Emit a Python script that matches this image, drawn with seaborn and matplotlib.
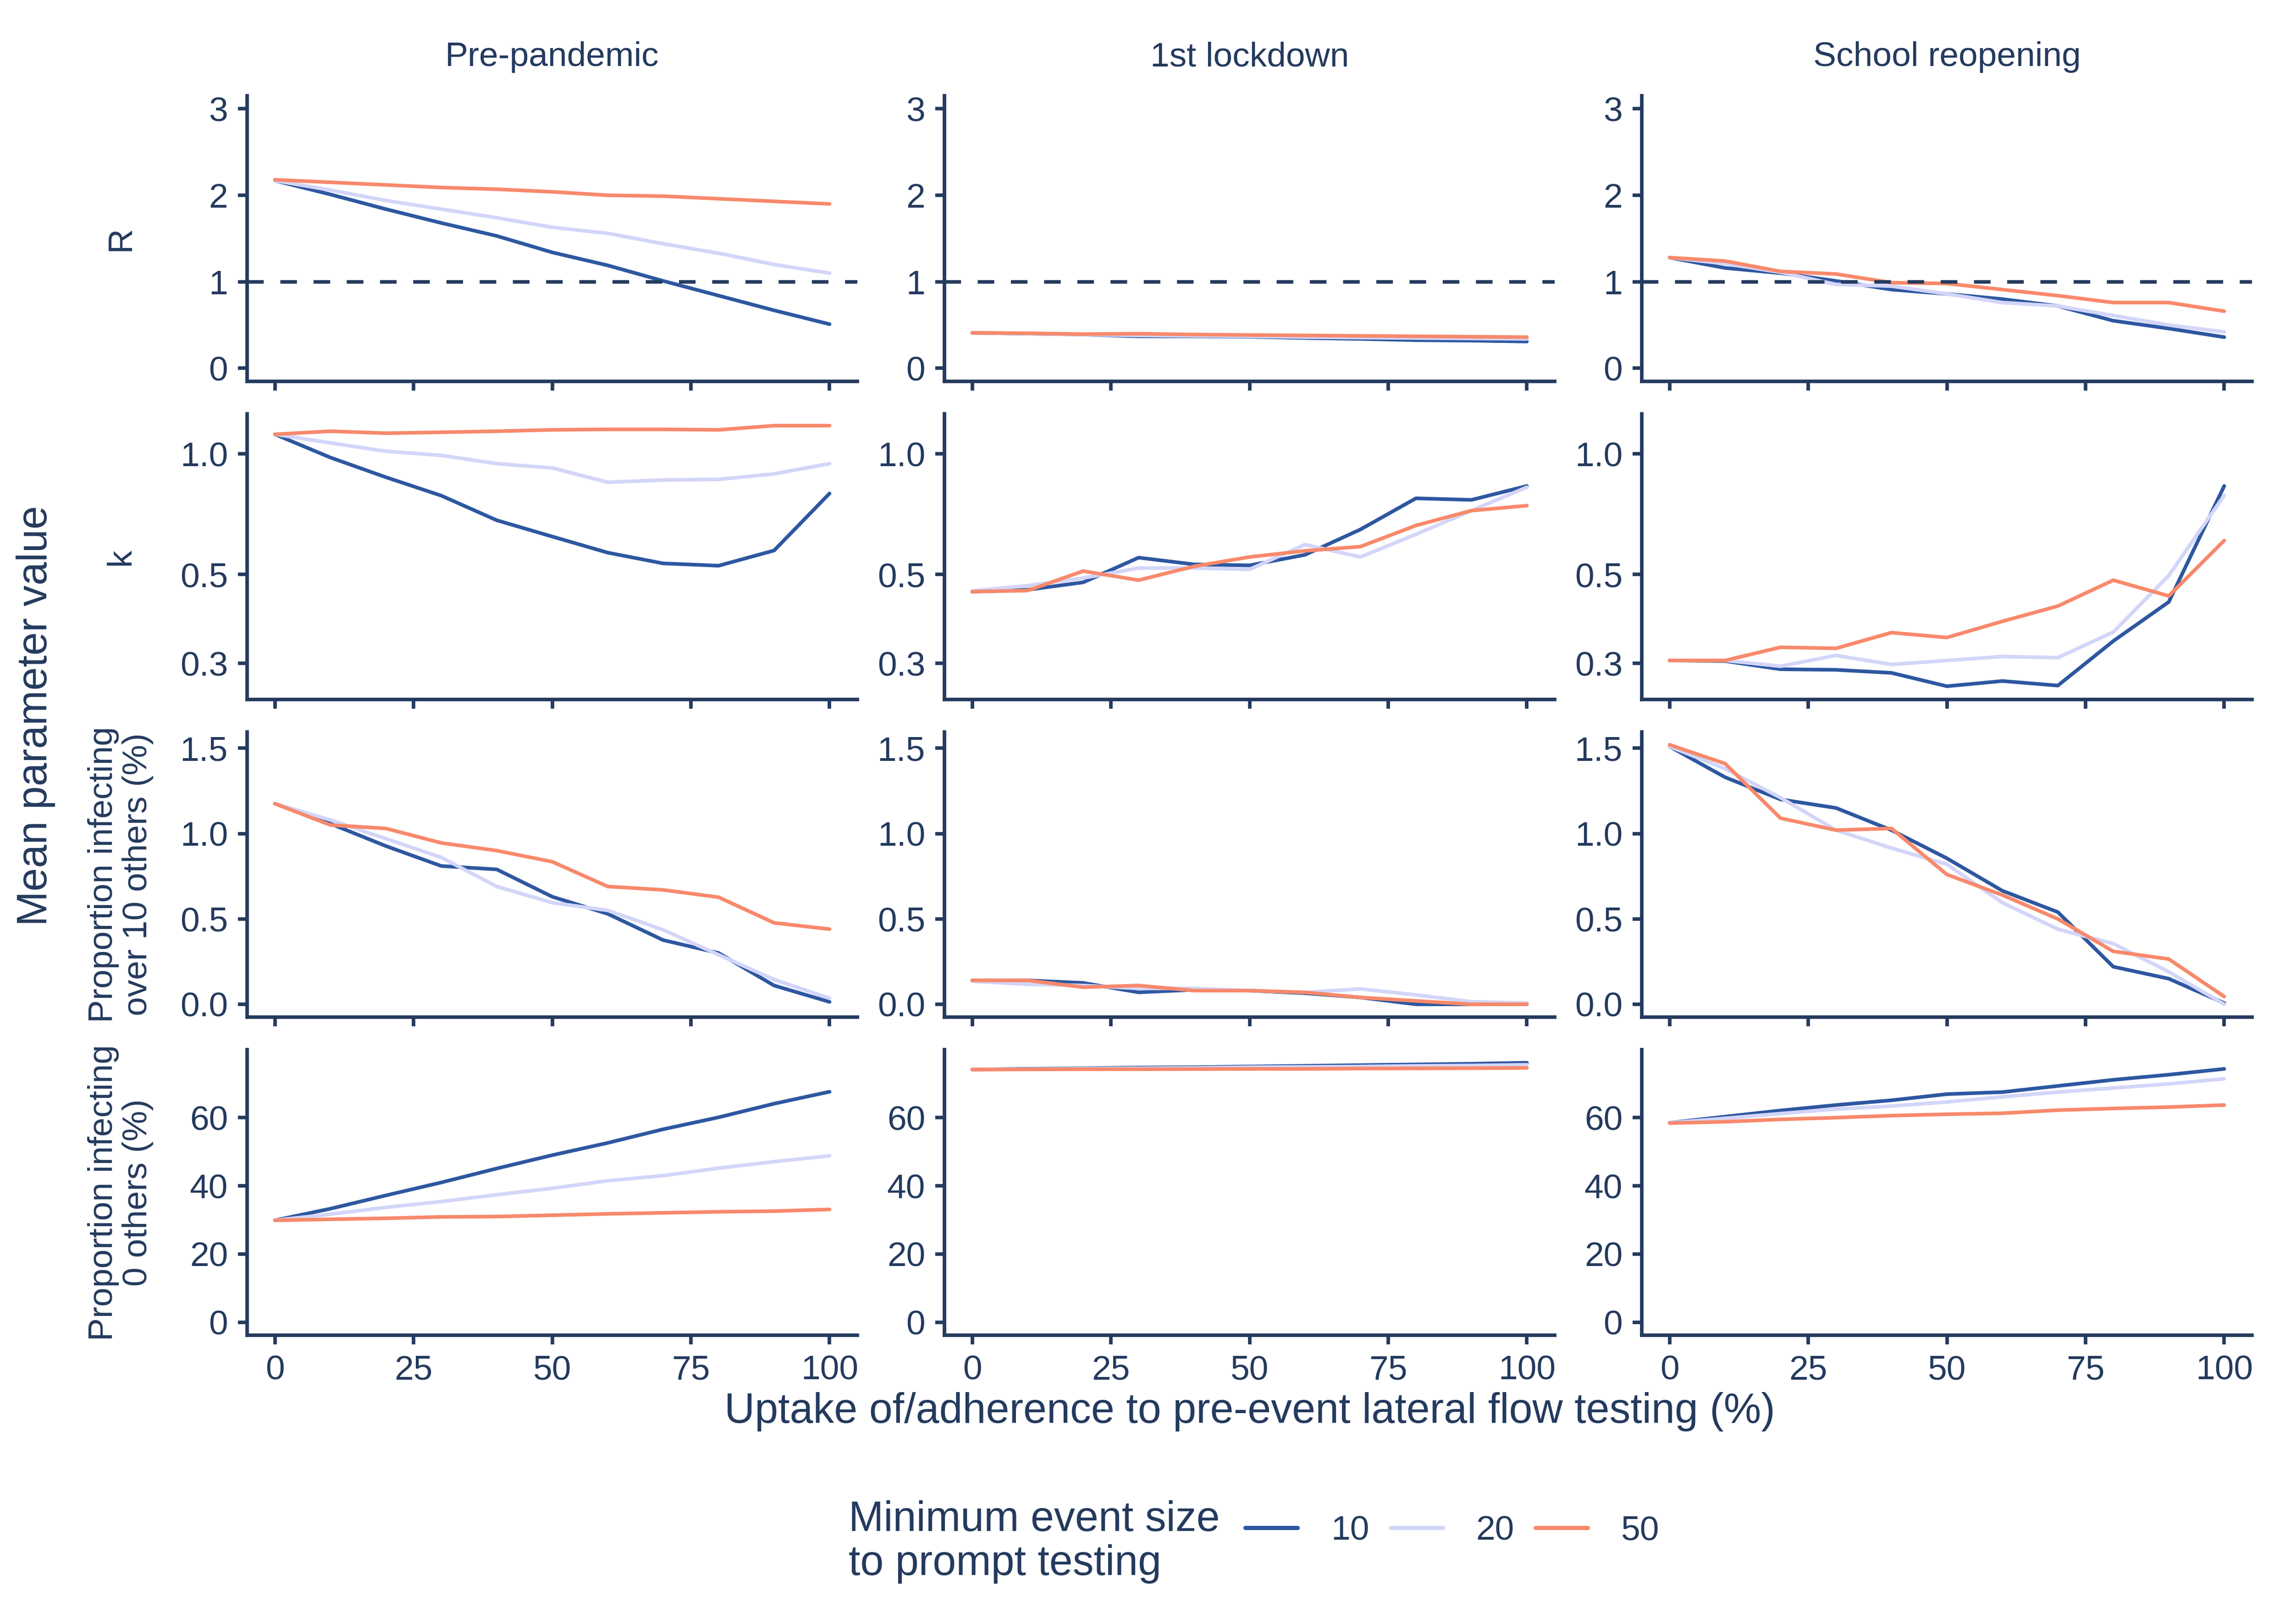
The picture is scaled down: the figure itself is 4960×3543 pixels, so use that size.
import numpy as np
import pandas as pd
import matplotlib
matplotlib.use("Agg")
import matplotlib.pyplot as plt
from matplotlib.lines import Line2D
from matplotlib.ticker import NullLocator
import seaborn as sns


# ---- data ----
uptake = [0, 10, 20, 30, 40, 50, 60, 70, 80, 90, 100]
sizes = ["10", "20", "50"]
scenarios = ["Pre-pandemic", "1st lockdown", "School reopening"]

# R
r_pre_10 = [2.17, 2.01, 1.84, 1.68, 1.53, 1.34, 1.19, 1.01, 0.84, 0.67, 0.51]
r_pre_20 = [2.17, 2.06, 1.94, 1.84, 1.74, 1.63, 1.56, 1.44, 1.33, 1.20, 1.10]
r_pre_50 = [2.18, 2.15, 2.12, 2.09, 2.07, 2.04, 2.00, 1.99, 1.96, 1.93, 1.90]
r_lock_10 = [0.41, 0.40, 0.39, 0.37, 0.37, 0.365, 0.35, 0.34, 0.325, 0.32, 0.31]
r_lock_20 = [0.41, 0.40, 0.39, 0.38, 0.375, 0.37, 0.36, 0.355, 0.35, 0.345, 0.34]
r_lock_50 = [0.41, 0.405, 0.395, 0.40, 0.39, 0.385, 0.38, 0.375, 0.37, 0.365, 0.36]
r_school_10 = [1.28, 1.16, 1.10, 1.01, 0.91, 0.86, 0.80, 0.72, 0.55, 0.46, 0.36]
r_school_20 = [1.28, 1.21, 1.11, 0.97, 0.95, 0.86, 0.76, 0.72, 0.61, 0.50, 0.42]
r_school_50 = [1.28, 1.24, 1.12, 1.09, 0.99, 0.98, 0.91, 0.84, 0.76, 0.76, 0.66]

# k
k_pre_10 = [1.12, 0.98, 0.875, 0.787, 0.683, 0.622, 0.567, 0.533, 0.526, 0.574, 0.797]
k_pre_20 = [1.12, 1.066, 1.016, 0.992, 0.946, 0.923, 0.85, 0.861, 0.864, 0.892, 0.946]
k_pre_50 = [1.12, 1.14, 1.127, 1.133, 1.14, 1.149, 1.152, 1.152, 1.149, 1.177, 1.177]
k_lock_10 = [0.453, 0.458, 0.478, 0.551, 0.530, 0.527, 0.56, 0.648, 0.775, 0.768, 0.832]
k_lock_20 = [0.455, 0.469, 0.49, 0.519, 0.519, 0.515, 0.594, 0.553, 0.63, 0.722, 0.826]
k_lock_50 = [0.453, 0.456, 0.51, 0.484, 0.524, 0.553, 0.573, 0.587, 0.663, 0.722, 0.743]
k_school_10 = [0.305, 0.304, 0.29, 0.289, 0.284, 0.263, 0.271, 0.264, 0.341, 0.427, 0.832]
k_school_20 = [0.305, 0.305, 0.295, 0.314, 0.298, 0.305, 0.312, 0.31, 0.359, 0.497, 0.788]
k_school_50 = [0.305, 0.305, 0.329, 0.327, 0.358, 0.348, 0.382, 0.417, 0.484, 0.442, 0.608]

# proportion infecting over 10 others (%)
p10_pre_10 = [1.175, 1.058, 0.927, 0.81, 0.79, 0.63, 0.53, 0.376, 0.30, 0.11, 0.014]
p10_pre_20 = [1.175, 1.08, 0.97, 0.86, 0.69, 0.595, 0.55, 0.436, 0.29, 0.145, 0.035]
p10_pre_50 = [1.175, 1.05, 1.03, 0.945, 0.90, 0.835, 0.69, 0.67, 0.627, 0.477, 0.44]
p10_lock_10 = [0.14, 0.14, 0.125, 0.07, 0.085, 0.08, 0.065, 0.04, 0.0, 0.0, 0.0]
p10_lock_20 = [0.135, 0.117, 0.11, 0.093, 0.093, 0.08, 0.07, 0.09, 0.055, 0.015, 0.007]
p10_lock_50 = [0.14, 0.14, 0.10, 0.11, 0.08, 0.08, 0.07, 0.04, 0.02, 0.0, 0.0]
p10_school_10 = [1.51, 1.33, 1.20, 1.15, 1.02, 0.855, 0.665, 0.54, 0.22, 0.15, 0.007]
p10_school_20 = [1.51, 1.38, 1.21, 1.02, 0.915, 0.82, 0.595, 0.44, 0.355, 0.19, 0.0]
p10_school_50 = [1.52, 1.41, 1.09, 1.02, 1.03, 0.76, 0.64, 0.50, 0.31, 0.265, 0.045]

# proportion infecting 0 others (%)
p0_pre_10 = [29.9, 33.3, 37.2, 41.0, 45.1, 49.0, 52.6, 56.6, 60.1, 64.1, 67.6]
p0_pre_20 = [29.9, 31.7, 33.7, 35.4, 37.4, 39.3, 41.5, 43.0, 45.2, 47.1, 48.8]
p0_pre_50 = [29.9, 30.2, 30.5, 30.9, 31.0, 31.4, 31.8, 32.1, 32.4, 32.6, 33.1]
p0_lock_10 = [74.1, 74.3, 74.5, 74.7, 74.8, 75.0, 75.2, 75.4, 75.6, 75.8, 76.1]
p0_lock_20 = [74.1, 74.2, 74.4, 74.5, 74.6, 74.8, 74.9, 75.0, 75.2, 75.3, 75.5]
p0_lock_50 = [74.1, 74.15, 74.2, 74.2, 74.25, 74.3, 74.3, 74.4, 74.45, 74.5, 74.6]
p0_school_10 = [58.5, 60.3, 62.1, 63.7, 65.1, 66.9, 67.5, 69.3, 71.1, 72.6, 74.3]
p0_school_20 = [58.5, 59.8, 61.2, 62.5, 63.4, 64.6, 66.1, 67.5, 68.7, 69.9, 71.4]
p0_school_50 = [58.4, 58.8, 59.5, 60.0, 60.6, 61.0, 61.3, 62.2, 62.7, 63.1, 63.7]

metric_labels = ["R", "k", "Proportion infecting\nover 10 others (%)",
                 "Proportion infecting\n0 others (%)"]

series = {
    ("R", "Pre-pandemic"): [r_pre_10, r_pre_20, r_pre_50],
    ("R", "1st lockdown"): [r_lock_10, r_lock_20, r_lock_50],
    ("R", "School reopening"): [r_school_10, r_school_20, r_school_50],
    ("k", "Pre-pandemic"): [k_pre_10, k_pre_20, k_pre_50],
    ("k", "1st lockdown"): [k_lock_10, k_lock_20, k_lock_50],
    ("k", "School reopening"): [k_school_10, k_school_20, k_school_50],
    ("p10", "Pre-pandemic"): [p10_pre_10, p10_pre_20, p10_pre_50],
    ("p10", "1st lockdown"): [p10_lock_10, p10_lock_20, p10_lock_50],
    ("p10", "School reopening"): [p10_school_10, p10_school_20, p10_school_50],
    ("p0", "Pre-pandemic"): [p0_pre_10, p0_pre_20, p0_pre_50],
    ("p0", "1st lockdown"): [p0_lock_10, p0_lock_20, p0_lock_50],
    ("p0", "School reopening"): [p0_school_10, p0_school_20, p0_school_50],
}

rows = []
for (metric, scen), vals in series.items():
    for size, v in zip(sizes, vals):
        for u, y in zip(uptake, v):
            rows.append({"metric": metric, "scenario": scen, "size": size,
                         "uptake": u, "value": y})
df = pd.DataFrame(rows)


# ---- style ----
NAVY = "#243a5e"
PALETTE = {"10": "#2d57a0", "20": "#d3d5f9", "50": "#f8896b"}
LW_AX = 1.85

sns.set_theme(style="white")
plt.rcParams["font.family"] = ["Liberation Sans", "DejaVu Sans"]
plt.rcParams["text.color"] = NAVY
plt.rcParams["axes.labelcolor"] = NAVY
plt.rcParams["xtick.color"] = NAVY
plt.rcParams["ytick.color"] = NAVY

fig, axes = plt.subplots(4, 3, figsize=(4960 / 300, 3543 / 300), dpi=300)
plt.subplots_adjust(left=0.1087, right=0.9903, top=0.941, bottom=0.1778,
                    wspace=0.143, hspace=0.114)

metrics = ["R", "k", "p10", "p0"]
ylims = {"R": (-0.15, 3.15), "k": (0.244, 1.26),
         "p10": (-0.076, 1.596), "p0": (-3.8, 79.9)}
yticks = {"R": [0, 1, 2, 3], "k": [0.3, 0.5, 1.0],
          "p10": [0.0, 0.5, 1.0, 1.5], "p0": [0, 20, 40, 60]}
yticklabels = {"R": ["0", "1", "2", "3"], "k": ["0.3", "0.5", "1.0"],
               "p10": ["0.0", "0.5", "1.0", "1.5"], "p0": ["0", "20", "40", "60"]}

for i, metric in enumerate(metrics):
    for j, scen in enumerate(scenarios):
        ax = axes[i, j]
        sub = df[(df["metric"] == metric) & (df["scenario"] == scen)]
        sns.lineplot(data=sub, x="uptake", y="value", hue="size",
                     hue_order=sizes, palette=PALETTE, linewidth=1.9,
                     legend=False, ax=ax)
        if metric == "R":
            ax.axhline(1, color=NAVY, lw=LW_AX, dashes=(4.7, 4.7), zorder=5)
        if metric == "k":
            ax.set_yscale("log")
            ax.yaxis.set_minor_locator(NullLocator())
        ax.set_ylim(*ylims[metric])
        ax.set_yticks(yticks[metric])
        ax.set_yticklabels(yticklabels[metric])
        ax.set_xlim(-5, 105)
        ax.set_xticks([0, 25, 50, 75, 100])
        if i < 3:
            ax.set_xticklabels([])
        ax.set_xlabel("")
        ax.set_ylabel("")
        for side in ["top", "right"]:
            ax.spines[side].set_visible(False)
        for side in ["left", "bottom"]:
            ax.spines[side].set_color(NAVY)
            ax.spines[side].set_linewidth(LW_AX)
        ax.tick_params(axis="both", which="major", direction="out",
                       length=4.8, width=LW_AX, pad=5.3, labelsize=18,
                       color=NAVY, labelcolor=NAVY)
        ax.tick_params(left=True, bottom=True)
        if i == 0:
            ax.set_title(scen, fontsize=18, color=NAVY, pad=15.5)

# row labels (strip text on the left)
for i, lab in enumerate(metric_labels):
    pos = axes[i, 0].get_position()
    fig.text(263 / 4960, (pos.y0 + pos.y1) / 2, lab, rotation=90,
             ha="center", va="center", fontsize=18, color=NAVY,
             multialignment="center", linespacing=1.1)

fig.text(78 / 4960, 0.5594, "Mean parameter value", rotation=90,
         ha="center", va="center", fontsize=22, color=NAVY)
fig.text(0.5495, 1 - 3080 / 3543,
         "Uptake of/adherence to pre-event lateral flow testing (%)",
         ha="center", va="center", fontsize=22, color=NAVY)

# legend
fig.text(1851 / 4960, 1 - 3364 / 3543, "Minimum event size\nto prompt testing",
         ha="left", va="center", fontsize=22, color=NAVY, linespacing=1.15)
handles = [Line2D([0], [0], color=PALETTE[s], lw=2.2) for s in sizes]
fig.legend(handles, sizes, loc="center left",
           bbox_to_anchor=(2716 / 4960, 1 - 3340 / 3543), ncol=3,
           frameon=False, fontsize=18, handlelength=1.52,
           handletextpad=0.97, columnspacing=0.62, borderpad=0,
           borderaxespad=0, labelcolor=NAVY)

fig.savefig("out.png", dpi=300, facecolor="white")
